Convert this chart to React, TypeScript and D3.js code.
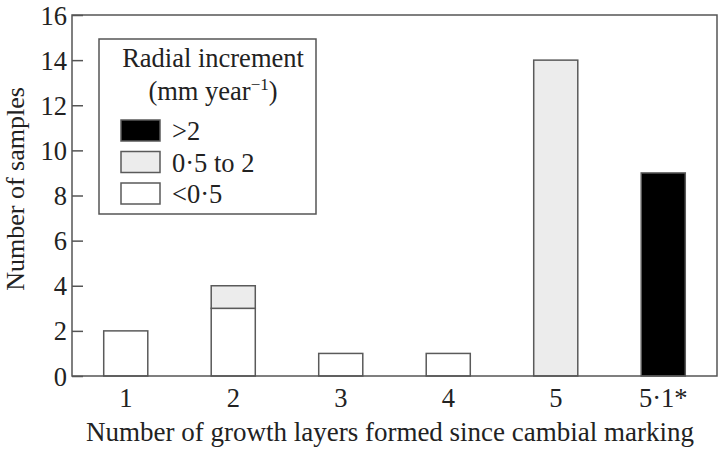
import React, { useEffect, useRef } from 'react';
import * as d3 from 'd3';

// categories on the x axis
const layers = ['1', '2', '3', '4', '5', '5·1*'];
// samples per radial increment class
const below05 = [2, 3, 1, 1, 0, 0];
const mid05to2 = [0, 1, 0, 0, 14, 0];
const above2 = [0, 0, 0, 0, 0, 9];
const yTicks = [0, 2, 4, 6, 8, 10, 12, 14, 16];

const seriesKeys = ['below05', 'mid', 'above2'];
const legendItems = [
  { key: 'above2', label: '>2' },
  { key: 'mid', label: '0·5 to 2' },
  { key: 'below05', label: '<0·5' },
];
const fills: Record<string, string> = {
  below05: '#ffffff',
  mid: '#ececec',
  above2: '#000000',
};

const font = '"Liberation Serif", "Times New Roman", serif';

export default function App() {
  const ref = useRef<SVGSVGElement>(null);

  useEffect(() => {
    const svg = d3.select(ref.current);
    svg.selectAll('*').remove();
    const width = 720;
    const height = 450;
    const margin = { top: 15, right: 3, bottom: 74, left: 72 };

    const rows = layers.map((l, i) => ({
      layer: l,
      below05: below05[i],
      mid: mid05to2[i],
      above2: above2[i],
    }));

    const x = d3
      .scaleBand()
      .domain(layers)
      .range([margin.left, width - margin.right])
      .paddingInner(0.59)
      .paddingOuter(0.295);

    const y = d3
      .scaleLinear()
      .domain([0, 16])
      .range([height - margin.bottom, margin.top]);

    const stacked = d3.stack<any>().keys(seriesKeys)(rows);

    // bars
    stacked.forEach(s => {
      svg
        .append('g')
        .selectAll('rect')
        .data(s.filter(d => d[1] - d[0] > 0))
        .join('rect')
        .attr('x', d => x(d.data.layer)!)
        .attr('y', d => y(d[1]))
        .attr('width', x.bandwidth())
        .attr('height', d => y(d[0]) - y(d[1]))
        .attr('fill', fills[s.key])
        .attr('stroke', '#5a5a5a')
        .attr('stroke-width', 1.5);
    });

    // frame
    svg
      .append('rect')
      .attr('x', margin.left)
      .attr('y', margin.top)
      .attr('width', width - margin.left - margin.right)
      .attr('height', height - margin.top - margin.bottom)
      .attr('fill', 'none')
      .attr('stroke', '#555')
      .attr('stroke-width', 1.5);

    // y axis, ticks pointing inwards
    svg
      .append('g')
      .attr('transform', `translate(${margin.left},0)`)
      .call(
        d3
          .axisRight(y)
          .tickValues(yTicks)
          .tickSize(11)
          .tickFormat(d3.format('d')),
      )
      .call(g => g.select('.domain').remove())
      .call(g =>
        g.selectAll('.tick line').attr('stroke', '#555').attr('stroke-width', 1.5),
      )
      .call(g =>
        g
          .selectAll('.tick text')
          .attr('x', -5)
          .attr('text-anchor', 'end')
          .attr('dy', '0.34em')
          .attr('font-family', font)
          .attr('font-size', 26.5)
          .attr('fill', '#222'),
      );

    // x axis labels
    svg
      .append('g')
      .attr('transform', `translate(0,${height - margin.bottom})`)
      .call(d3.axisBottom(x).tickSize(0))
      .call(g => g.select('.domain').remove())
      .call(g =>
        g
          .selectAll('.tick text')
          .attr('y', 31)
          .attr('dy', 0)
          .attr('font-family', font)
          .attr('font-size', 26.5)
          .attr('fill', '#222'),
      );

    svg
      .append('text')
      .attr('x', 390)
      .attr('y', 441)
      .attr('text-anchor', 'middle')
      .attr('font-family', font)
      .attr('font-size', 27)
      .attr('fill', '#222')
      .text('Number of growth layers formed since cambial marking');

    svg
      .append('text')
      .attr('transform', 'translate(24,189) rotate(-90)')
      .attr('text-anchor', 'middle')
      .attr('font-family', font)
      .attr('font-size', 26)
      .attr('fill', '#222')
      .text('Number of samples');

    // legend
    const lg = svg.append('g').attr('transform', 'translate(99,39)');
    lg.append('rect')
      .attr('width', 217)
      .attr('height', 175)
      .attr('fill', '#fff')
      .attr('stroke', '#555')
      .attr('stroke-width', 1.5);
    lg.append('text')
      .attr('x', 114)
      .attr('y', 28)
      .attr('text-anchor', 'middle')
      .attr('font-family', font)
      .attr('font-size', 26.5)
      .attr('fill', '#222')
      .text('Radial increment');
    const t2 = lg
      .append('text')
      .attr('x', 114)
      .attr('y', 61)
      .attr('text-anchor', 'middle')
      .attr('font-family', font)
      .attr('font-size', 26.5)
      .attr('fill', '#222');
    t2.append('tspan').text('(mm year');
    t2.append('tspan').attr('dy', -10).attr('font-size', 17).text('−1');
    t2.append('tspan').attr('dy', 10).text(')');

    legendItems.forEach((item, i) => {
      const row = lg.append('g').attr('transform', `translate(22,${81 + i * 31.5})`);
      row
        .append('rect')
        .attr('width', 39)
        .attr('height', 21)
        .attr('fill', fills[item.key])
        .attr('stroke', '#5a5a5a')
        .attr('stroke-width', 1.5);
      row
        .append('text')
        .attr('x', 51)
        .attr('y', 20)
        .attr('font-family', font)
        .attr('font-size', 26.5)
        .attr('fill', '#222')
        .text(item.label);
    });
  });

  return (
    <svg
      ref={ref}
      width={720}
      height={450}
      style={{ position: 'absolute', left: 0, top: 0, background: '#fff' }}
    />
  );
}
